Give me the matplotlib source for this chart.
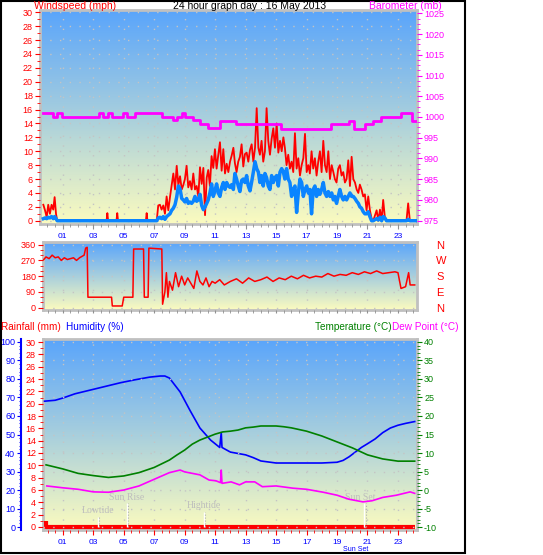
import numpy as np
import matplotlib.pyplot as plt
from matplotlib.ticker import MultipleLocator, FixedLocator
from matplotlib.colors import LinearSegmentedColormap
from matplotlib.patches import Rectangle

plt.rcParams['font.family'] = ['Liberation Sans', 'DejaVu Sans']
plt.rcParams['axes.unicode_minus'] = False

# ---------------- data ----------------
hour_ticks = [1, 3, 5, 7, 9, 11, 13, 15, 17, 19, 21, 23]
hour_labels = ['01', '03', '05', '07', '09', '11', '13', '15', '17', '19', '21', '23']

# wind speed (mph): gust (red) and average (blue)
wind_hours = [-0.27, -0.16, -0.05, 0.05, 0.16, 0.27, 0.38, 0.47, 0.56, 0.64,
              3.88, 3.93, 3.98, 4.53, 4.58, 4.63, 6.46, 6.51, 6.56, 7.17,
              7.27, 7.38, 7.49, 7.60, 7.71, 7.82, 7.93, 8.04, 8.15, 8.26,
              8.37, 8.48, 8.59, 8.70, 8.81, 8.91, 9.02, 9.13, 9.24, 9.35,
              9.46, 9.57, 9.68, 9.79, 9.90, 10.01, 10.12, 10.23, 10.34, 10.45,
              10.55, 10.66, 10.77, 10.88, 10.99, 11.10, 11.21, 11.32, 11.43, 11.54,
              11.65, 11.76, 11.87, 11.98, 12.09, 12.20, 12.30, 12.41, 12.52, 12.63,
              12.74, 12.85, 12.96, 13.07, 13.18, 13.29, 13.40, 13.51, 13.62, 13.73,
              13.84, 13.94, 14.05, 14.16, 14.27, 14.38, 14.49, 14.60, 14.71, 14.82,
              14.93, 15.04, 15.15, 15.26, 15.37, 15.48, 15.58, 15.69, 15.80, 15.91,
              16.02, 16.13, 16.24, 16.35, 16.46, 16.57, 16.68, 16.79, 16.90, 17.01,
              17.12, 17.22, 17.33, 17.44, 17.55, 17.66, 17.77, 17.88, 17.99, 18.10,
              18.21, 18.32, 18.43, 18.54, 18.65, 18.76, 18.86, 18.97, 19.08, 19.19,
              19.30, 19.41, 19.52, 19.63, 19.74, 19.85, 19.96, 20.07, 20.18, 20.29,
              20.40, 20.50, 20.61, 20.72, 20.83, 20.94, 21.05, 21.16, 21.27,
              21.38, 21.60, 21.71, 21.82, 21.93, 22.03, 22.14, 22.25, 23.56, 23.67,
              23.78, 24.16]
wind_gust = [2.3, 1.5, 0.5, 2.3, 1.0, 2.3, 1.6, 3.4, 1.0, 0.0,
             0.0, 1.1, 0.0, 0.0, 1.1, 0.0, 0.0, 1.1, 0.0, 0.0,
             2.2, 2.3, 1.6, 2.2, 1.0, 3.5, 1.5, 3.4, 5.1, 6.8,
             4.5, 7.9, 5.1, 6.4, 4.5, 5.1, 6.0, 7.9, 4.8, 5.7,
             4.5, 6.8, 4.5, 5.0, 3.5, 7.7, 5.3, 7.6, 0.8, 6.2,
             7.3, 5.0, 9.3, 7.6, 10.3, 7.5, 9.5, 11.3, 7.2, 10.3,
             6.8, 8.2, 7.0, 8.5, 9.4, 10.5, 8.3, 7.0, 8.5, 9.2,
             11.0, 7.8, 9.6, 9.8, 8.5, 10.2, 11.0, 8.5, 10.5, 16.2,
             10.5, 9.5, 11.5, 8.5, 10.0, 16.2, 11.5, 9.5, 11.8, 13.3,
             10.5, 14.0, 9.8, 11.5, 10.0, 12.0, 10.5, 8.0, 9.5, 7.5,
             8.5, 7.0, 12.6, 7.5, 9.0, 6.5, 8.0, 9.0, 12.5, 7.0,
             8.0, 6.8, 10.0, 7.5, 9.0, 6.5, 8.5, 10.0, 7.0, 11.5,
             8.0, 7.0, 10.0, 6.0, 8.0, 7.0, 6.0, 5.5, 7.5, 8.0,
             6.5, 7.0, 5.5, 6.0, 8.7, 5.0, 9.2, 6.0, 5.5, 4.5,
             4.0, 5.2, 4.5, 3.5, 3.8, 1.5, 3.5, 1.5, 0.3,
             0.0, 1.5, 0.0, 1.6, 0.0, 3.0, 0.5, 0.0, 0.0, 2.5,
             0.0, 0.0]
wind_avg = [0.3, 0.4, 0.3, 0.5, 0.4, 0.6, 0.3, 0.6, 0.3, 0.0,
            0.0, 0.0, 0.0, 0.0, 0.0, 0.0, 0.0, 0.0, 0.0, 0.0,
            0.4, 0.5, 0.3, 0.6, 0.2, 0.6, 0.8, 1.0, 1.5, 1.8,
            2.3, 3.4, 5.0, 4.6, 3.2, 3.0, 2.7, 3.2, 2.5, 2.7,
            2.5, 2.8, 3.5, 2.8, 3.0, 3.8, 2.2, 1.6, 2.0, 2.5,
            3.0, 4.0, 5.3, 3.5, 4.3, 5.3, 4.0, 3.5, 4.8, 5.5,
            4.5, 5.5, 5.0, 4.8, 5.2, 4.5, 6.8, 6.0, 5.0, 4.2,
            5.8, 6.0, 5.5, 6.5, 5.0, 4.3, 5.6, 7.0, 8.5, 7.5,
            7.0, 5.5, 6.5, 5.0, 6.8, 6.2, 5.0, 4.5, 6.5, 5.5,
            6.2, 6.5, 5.0, 7.0, 7.5, 7.0, 6.0, 7.5, 6.0, 5.5,
            3.5, 4.5, 5.0, 1.2, 4.0, 6.0, 5.5, 3.5, 4.5, 5.0,
            4.0, 4.5, 1.0, 4.5, 5.0, 3.5, 4.5, 3.8, 4.5, 5.5,
            4.0, 3.5, 4.2, 3.5, 4.0, 3.0, 3.5, 2.5, 3.5, 4.5,
            3.5, 3.0, 3.5, 3.0, 3.5, 4.0, 3.5, 3.5, 3.2, 2.8,
            2.5, 2.0, 1.8, 1.3, 1.0, 1.0, 1.3, 0.6, 0.0,
            0.0, 0.3, 0.1, 0.5, 0.0, 0.6, 0.4, 0.0, 0.0, 0.2,
            0.0, 0.0]

# barometer (mb), stepped
baro_hours = [-0.27, 0.38, 0.63, 0.93, 3.40, 3.66, 3.99, 4.21, 4.98, 5.19,
              5.74, 7.49, 8.26, 8.48, 8.80, 9.02, 9.57, 10.01, 10.55, 11.32,
              12.35, 15.32, 18.60, 19.78, 20.13, 20.83, 21.38, 21.88, 23.19, 23.89,
              24.16]
baro = [1001.0, 1000.0, 1001.0, 1000.0, 1001.0, 1000.0, 1001.0, 1000.0, 1001.0, 1000.0,
        1001.0, 1000.0, 999.2, 1000.0, 1001.0, 1000.0, 999.2, 998.2, 997.3, 999.1,
        998.2, 997.2, 998.2, 999.1, 997.2, 998.2, 999.1, 1000.1, 1001.0, 999.1,
        999.1]

# wind direction (degrees)
dir_hours = [-0.25, -0.1, 0.1, 0.3, 0.5, 0.7, 0.9, 1.1, 1.3, 1.5,
             1.7, 1.9, 2.1, 2.4, 2.5, 2.6, 2.65, 4.2, 4.25, 4.9,
             5.0, 5.6, 5.65, 6.3, 6.35, 6.6, 6.65, 7.5, 7.55, 7.7,
             7.8, 7.9, 8.0, 8.2, 8.4, 8.6, 8.8, 9.0, 9.2, 9.4,
             9.6, 9.8, 10.0, 10.2, 10.4, 10.6, 10.8, 11.0, 11.3, 11.6,
             12.0, 12.4, 12.8, 13.2, 13.6, 14.0, 14.4, 14.8, 15.2, 15.6,
             16.0, 16.4, 16.8, 17.2, 17.6, 18.0, 18.4, 18.8, 19.2, 19.6,
             20.0, 20.4, 20.8, 21.2, 21.6, 22.0, 22.4, 22.8, 23.0, 23.2,
             23.5, 23.7, 23.8, 24.1]
dir_deg = [275, 290, 280, 300, 285, 290, 270, 285, 275, 280,
           285, 270, 285, 300, 340, 345, 60, 60, 10, 10,
           60, 60, 335, 335, 60, 60, 340, 335, 20, 90,
           200, 60, 150, 100, 200, 120, 180, 130, 170, 140,
           110, 210, 150, 130, 170, 120, 150, 140, 160, 130,
           150, 165, 140, 170, 150, 160, 175, 150, 170, 160,
           180, 165, 185, 170, 180, 175, 195, 180, 190, 185,
           200, 190, 205, 195, 210, 195, 200, 205, 200, 110,
           120, 200, 130, 130]

# rainfall (mm)
rain_hours = [-0.08, -0.08, 24.15]
rain = [1.0, 0.0, 0.0]

# humidity (%)
hum_hours = [-0.2, 0.5, 1.0, 1.8, 2.8, 3.8, 4.8, 5.7, 6.7, 7.4,
             7.7, 8.0, 8.7, 9.35, 10.0, 10.7, 11.3, 11.4, 11.45, 12.0,
             13.0, 13.5, 14.0, 15.0, 16.0, 17.0, 18.0, 19.0, 19.4, 19.8,
             20.2, 20.6, 21.0, 21.5, 22.0, 22.5, 23.0, 23.5, 24.1]
humidity = [68, 68.5, 69.7, 72, 74, 76, 78, 79.5, 81, 81.6,
            81.6, 80.5, 73, 63, 53.5, 47, 43, 51, 43, 40.5,
            39, 37.5, 35.7, 34.6, 34.6, 34.6, 34.6, 35, 36, 38,
            40.5, 43, 45, 47.6, 51, 53.5, 55, 56, 57]

# temperature and dew point (deg C)
temp_hours = [-0.1, 1, 2, 3, 4, 5, 6, 7, 8, 8.5,
              9, 9.5, 10, 10.5, 11, 11.5, 12, 12.5, 13, 13.5,
              14, 15, 15.5, 16, 17, 18, 19, 20, 21, 22,
              23, 24.1]
temperature = [6.8, 5.7, 4.5, 3.9, 3.4, 3.8, 4.7, 6.1, 8.1, 9.5,
               10.8, 12.4, 13.5, 14.3, 15.1, 15.7, 15.9, 16.2, 16.8, 17.0,
               17.3, 17.3, 17.1, 16.8, 15.9, 14.6, 13.0, 11.4, 9.5, 8.4,
               7.8, 7.8]
dew_hours = [-0.05, 1, 2, 3, 4, 5, 6, 7, 8, 8.7,
             9.0, 10, 10.6, 11.05, 11.35, 11.4, 11.45, 12.05, 12.6, 13.0,
             13.6, 14.1, 15.0, 16.1, 17.0, 18.1, 19.0, 19.8, 20.7, 21.3,
             22.0, 22.9, 23.8, 24.1]
dewpoint = [1.1, 0.6, 0.2, -0.5, -0.6, 0.0, 1.1, 2.9, 4.7, 5.4,
            4.9, 4.1, 2.7, 2.5, 2.0, 5.4, 1.8, 2.2, 1.4, 2.2,
            2.2, 0.9, 1.1, 0.5, 0.2, -0.6, -1.4, -2.5, -3.2, -2.9,
            -2.0, -1.4, -0.5, -0.9]

# tides and sun
events = ['Lowtide', 'Sun Rise', 'Hightide', 'Sun Set']
event_hours = [3.31, 5.2, 10.27, 20.8]

# ---------------- figure ----------------
W, H = 543, 555
fig = plt.figure(figsize=(W / 100, H / 100), dpi=100)


def pos(x0, y0, x1, y1):
    return [x0 / W, 1 - y1 / H, (x1 - x0) / W, (y1 - y0) / H]


bg = LinearSegmentedColormap.from_list('bg', ['#fbfbbf', '#a8cfdd', '#5aa5fb'])
grid_kw = dict(color='#c4c4c4', linestyle=(0, (1, 6)), linewidth=1)


def panel(rect, xlim, ylim):
    ax = fig.add_axes(rect)
    ax.imshow(np.linspace(0, 1, 200).reshape(-1, 1), cmap=bg, origin='lower',
              aspect='auto', extent=(0, 1, 0, 1), transform=ax.transAxes,
              zorder=0, interpolation='bilinear')
    ax.set_xlim(*xlim)
    ax.set_ylim(*ylim)
    for s in ax.spines.values():
        s.set_color('#c0c0c0')
        s.set_linewidth(2)
    ax.xaxis.set_major_locator(FixedLocator(hour_ticks))
    ax.xaxis.set_minor_locator(MultipleLocator(0.5))
    ax.xaxis.grid(True, **grid_kw)
    ax.set_axisbelow(False)
    return ax


def twin(ax, ylim):
    t = ax.twinx()
    t.set_ylim(*ylim)
    for s in t.spines.values():
        s.set_visible(False)
    return t


# ---- top: wind speed + barometer
ax1 = panel(pos(40, 10, 417, 224), (-0.49, 24.25), (-0.47, 30.33))
ax1.yaxis.set_major_locator(MultipleLocator(2))
ax1.yaxis.set_minor_locator(MultipleLocator(1))
ax1.yaxis.grid(True, **grid_kw)
ax1.tick_params(axis='y', which='major', colors='red', labelsize=6.5, length=3.6, pad=1.5)
ax1.tick_params(axis='y', which='minor', colors='red', length=2)
ax1.set_xticklabels(hour_labels)
ax1.tick_params(axis='x', which='major', color='#909090', labelcolor='blue', labelsize=6, length=3.5, pad=3)
ax1.tick_params(axis='x', which='minor', color='#909090', length=2)
ax1.plot(wind_hours, wind_gust, color='red', lw=1.3, zorder=3)
ax1.plot(wind_hours, wind_avg, color='#0a84ff', lw=2.5, zorder=4)

ax1b = twin(ax1, (974.2, 1025.8))
ax1b.yaxis.set_major_locator(MultipleLocator(5))
ax1b.yaxis.set_minor_locator(MultipleLocator(1.25))
ax1b.tick_params(axis='y', which='major', colors='#ff00ff', labelsize=6.5, length=3.6, pad=1.5)
ax1b.tick_params(axis='y', which='minor', colors='#ff00ff', length=2)
ax1b.plot(baro_hours, baro, drawstyle='steps-post', color='#ff00ff', lw=2, zorder=3)

# ---- middle: wind direction
ax2 = panel(pos(43, 242, 417, 310), (-0.30, 24.25), (-13, 375))
ax2.yaxis.set_major_locator(MultipleLocator(90))
ax2.yaxis.set_minor_locator(MultipleLocator(30))
ax2.yaxis.grid(True, **grid_kw)
ax2.tick_params(axis='y', which='major', colors='red', labelsize=6.5, length=3.6, pad=1.5)
ax2.tick_params(axis='y', which='minor', colors='red', length=2)
ax2.tick_params(axis='x', which='both', labelbottom=False, color='#909090', length=2)
ax2.plot(dir_hours, dir_deg, color='red', lw=1.1, zorder=3)

ax2b = twin(ax2, (-13, 375))
ax2b.set_yticks([0, 90, 180, 270, 360])
ax2b.set_yticklabels(['N', 'E', 'S', 'W', 'N'])
ax2b.tick_params(axis='y', length=0, pad=14, labelsize=8, labelcolor='red')

# ---- bottom: rain, humidity, temperature, dew point
ax3 = panel(pos(43, 339, 417, 530), (-0.30, 24.25), (-0.49, 30.49))
ax3.yaxis.set_major_locator(MultipleLocator(2))
ax3.yaxis.set_minor_locator(MultipleLocator(1))
ax3.tick_params(axis='y', which='major', colors='red', labelsize=6.5, length=3.6, pad=1.5)
ax3.tick_params(axis='y', which='minor', colors='red', length=2)
ax3.set_xticklabels(hour_labels)
ax3.tick_params(axis='x', which='major', color='red', labelcolor='blue', labelsize=6, length=3.5, pad=3)
ax3.tick_params(axis='x', which='minor', color='red', length=2)
ax3.plot(rain_hours, rain, color='red', lw=3, zorder=3, solid_capstyle='butt')

ax3h = twin(ax3, (-1.6, 101.6))
ax3h.yaxis.tick_left()
ax3h.spines['left'].set_visible(True)
ax3h.spines['left'].set_position(('outward', 15.5))
ax3h.spines['left'].set_color('blue')
ax3h.spines['left'].set_linewidth(1.5)
ax3h.yaxis.set_major_locator(MultipleLocator(10))
ax3h.yaxis.set_minor_locator(MultipleLocator(2))
ax3h.tick_params(axis='y', which='major', colors='blue', labelsize=6.5, length=3, pad=1.5)
ax3h.tick_params(axis='y', which='minor', colors='blue', length=1.5)
ax3h.plot(hum_hours, humidity, color='#0000ff', lw=1.2, zorder=3)

ax3t = twin(ax3, (-10.8, 40.8))
ax3t.yaxis.set_major_locator(MultipleLocator(5))
ax3t.yaxis.set_minor_locator(MultipleLocator(1))
ax3t.yaxis.grid(True, **grid_kw)
ax3t.tick_params(axis='y', which='major', colors='#008000', labelsize=6.5, length=3.6, pad=1.5)
ax3t.tick_params(axis='y', which='minor', colors='#008000', length=2)
ax3t.plot(temp_hours, temperature, color='#008000', lw=1.2, zorder=3)
ax3t.plot(dew_hours, dewpoint, color='#ff00ff', lw=1.2, zorder=3)

# tide / sun markers
event_top = [-7.3, -3.5, -5.9, -3.5]
event_text_y = [-5.4, -1.9, -4.3, -1.9]
event_text_dx = [0.0, 0.0, 0.0, -0.3]
for name, h, top, ty, dx in zip(events, event_hours, event_top, event_text_y, event_text_dx):
    ax3t.vlines(h, -10, top, color='white', lw=1, zorder=2)
    ax3t.vlines(h + 0.07, -10, top, color='#b0b0b0', lw=0.8, linestyles=':', zorder=2)
    ax3t.text(h + dx, ty, name, color='#bdbdbd', fontsize=7, ha='center', va='center',
              family=['Liberation Serif', 'DejaVu Serif'], zorder=2)
fig.text(356 / W, 1 - 549.5 / H, 'Sun Set', color='blue', fontsize=5, ha='center', va='center')

# ---- header texts
fig.text(34 / W, 1 - 6 / H, 'Windspeed (mph)', color='red', fontsize=7.5, ha='left', va='center')
fig.text(250 / W, 1 - 6 / H, '24 hour graph day : 16 May 2013', color='black', fontsize=7.5,
         ha='center', va='center')
fig.text(442 / W, 1 - 6 / H, 'Barometer (mb)', color='#ff00ff', fontsize=7.5, ha='right', va='center')
fig.text(1 / W, 1 - 327 / H, 'Rainfall (mm)', color='red', fontsize=7.2, ha='left', va='center')
fig.text(66 / W, 1 - 327 / H, 'Humidity (%)', color='blue', fontsize=7.2, ha='left', va='center')
fig.text(392 / W, 1 - 327 / H, 'Temperature (°C)', color='#008000', fontsize=7.2, ha='right', va='center')
fig.text(392 / W, 1 - 327 / H, 'Dew Point (°C)', color='#ff00ff', fontsize=7.2, ha='left', va='center')

# outer black frame
fig.add_artist(Rectangle((0.5 / W, 2 / H), 464.5 / W, (H - 2.5) / H, transform=fig.transFigure,
                         fill=False, edgecolor='black', lw=1.5))

fig.savefig('out.png', dpi=100)
